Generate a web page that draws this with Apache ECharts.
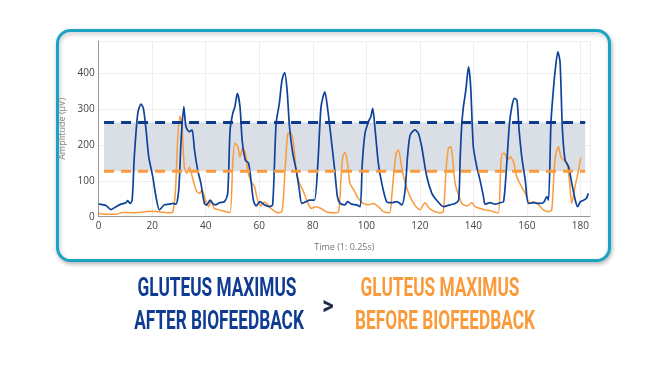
<!DOCTYPE html>
<html>
<head>
<meta charset="utf-8">
<script src="https://cdn.jsdelivr.net/npm/echarts@6/dist/echarts.min.js"></script>
<style>
html,body{margin:0;padding:0;background:#fff;}
#c{width:672px;height:365px;}
</style>
</head>
<body>
<div id="c"></div>
<script>
// Gluteus maximus AFTER biofeedback (blue)
const afterX = [0,2.7,4.6,6.5,8.3,10.2,10.8,11.7,12.5,13.3,14.6,15.8,16.7,17.7,18.7,20.2,21.4,22.7,24.5,26.4,27.7,28.9,29.9,30.8,31.8,32.6,33.9,34.9,35.8,37,38.2,39.5,40.4,41.6,42.6,43.6,45.1,47,48.2,49.1,50.1,50.9,51.8,52.8,53.6,54.8,56,56.9,57.8,58.8,60.3,61.9,63.8,65,66.3,67.5,68.5,69.5,70.4,71.3,72.5,73.8,75,75.9,77.5,78.8,80.6,81.9,83.1,84.5,85.6,86.5,88.2,89.2,90.2,92,93,94.5,96.4,97.7,98.5,99.5,100.8,101.7,102.4,103.3,104.5,105.8,107.6,109.5,111.4,113.3,114.5,115.4,116.4,118.2,119.5,120.7,122.6,124.5,126.3,128.8,131.3,133.2,134.5,135.1,135.7,136.3,137.2,138.2,139,140,141.3,142.5,143.8,144.4,146.3,148.2,150,151.3,152.5,153.5,154.4,155.3,156.3,157.1,158.1,159.4,160.6,162.5,164.4,166.2,167.5,168.1,169,169.7,170.6,171.6,172.4,173.3,174.3,175.6,176.8,178.1,179,180,181.2,182.2,183];
const afterY = [35,31,20,28,35,39,45,37,46,167,288,314,302,242,167,112,56,19,33,35,37,35,74,214,307,251,237,242,186,130,93,37,33,46,37,33,39,42,65,242,288,307,344,307,214,158,149,102,46,30,42,33,28,33,260,316,381,402,353,251,177,130,74,37,42,46,46,149,307,348,298,242,130,56,37,33,42,35,33,28,149,232,265,279,302,242,149,93,42,39,42,33,74,167,228,242,232,195,112,65,46,28,33,37,46,167,260,307,353,418,363,195,139,102,56,35,39,35,39,42,149,260,307,330,325,242,167,102,37,39,37,39,56,46,260,335,409,460,432,242,158,139,93,46,28,42,46,51,65];
// Gluteus maximus BEFORE biofeedback (orange)
const beforeX = [0,2.7,6.5,9,12.7,16.4,18.9,22.7,26.4,27.7,28.7,29.5,30.4,31.2,32,32.9,33.9,35.1,36.4,37.6,38.6,39.9,41.1,42,43.2,45.1,47.6,49.1,50.1,50.9,52,52.8,53.8,54.8,55.7,56.9,58.2,59.4,60.7,61.9,63.2,65,66.9,68.5,69.8,70.7,71.9,72.8,73.8,75,76.3,77.5,79.4,81.2,83.1,85,87.5,89.6,90.5,91.2,92.1,93,93.9,95.4,97,98.9,100.8,102.7,104.5,106.4,108.7,109.5,110.4,111.2,112,113,113.9,115.4,117,118.6,120.1,121.9,123.6,125.7,127.6,128.8,129.8,130.7,131.6,132.3,133.2,134.5,135.7,137.6,139.4,140.7,142.5,144.4,146.3,148.2,149.4,150.3,151,151.9,152.8,153.8,155,156.2,157.7,159.4,161.2,162.5,164.4,166.2,168.1,169.3,170.2,170.9,171.8,172.7,173.7,174.9,175.9,176.8,178,179.3,180.2];
const beforeY = [9,7,6.5,12,11,13,15,14,11,14,74,214,281,242,139,121,138,107,74,65,74,46,28,46,23,19,14,11,149,205,195,167,191,177,130,98,84,46,30,42,33,19,11,14,149,232,234,205,130,93,74,51,23,28,23,14,11,14,102,167,179,149,93,74,51,37,33,37,28,14,11,56,130,177,186,149,112,74,46,28,20,39,23,14,11,14,130,191,195,158,93,60,37,30,39,28,23,19,17,12,11,149,177,175,158,167,153,112,88,65,37,42,33,19,14,19,130,177,195,167,158,149,102,37,84,130,165];
// Threshold lines (µV) and their time span
const afterThreshold = 263;
const beforeThreshold = 127;
const thresholdSpan = [2, 181.8];
const xTicks = [0,20,40,60,80,100,120,140,160,180];
const yTicks = [0,100,200,300,400];

const blue = '#0e429b';
const orange = '#f99a3c';
const pair = (xs, ys) => xs.map((x, i) => [x, ys[i]]);

const chart = echarts.init(document.getElementById('c'), null, {renderer:'canvas'});
const textFont = 'Roboto';
chart.setOption({
  animation: false,
  backgroundColor: '#ffffff',
  grid: {left: 98.7, right: 82, top: 41, bottom: 148.3, containLabel: false},
  xAxis: {
    type: 'value', min: 0, max: 183.6, interval: 20,
    name: 'Time (1: 0.25s)', nameLocation: 'middle', nameGap: 26,
    nameTextStyle: {color: '#777', fontSize: 9, fontFamily: 'Open Sans'},
    axisLine: {show: true, lineStyle: {color: '#999', width: 1}},
    axisTick: {show: false},
    axisLabel: {color: '#444', fontSize: 10, fontFamily: 'Open Sans', margin: 4,
      formatter: v => xTicks.includes(v) ? String(v) : ''},
    splitLine: {show: true, lineStyle: {color: '#eeeeee', width: 1}}
  },
  yAxis: {
    type: 'value', min: 0, max: 490, interval: 100,
    name: 'Amplitude (µV)', nameLocation: 'middle', nameGap: 24, nameRotate: 90,
    nameTextStyle: {color: '#888', fontSize: 9, fontFamily: 'Open Sans'},
    axisLine: {show: true, lineStyle: {color: '#999', width: 1}},
    axisTick: {show: false},
    axisLabel: {color: '#444', fontSize: 10, fontFamily: 'Open Sans', margin: 4,
      formatter: v => yTicks.includes(v) ? String(v) : ''},
    splitLine: {show: true, lineStyle: {color: '#eeeeee', width: 1}}
  },
  series: [
    {
      type: 'line', name: 'band', data: [], silent: true,
      markArea: {silent: true, itemStyle: {color: '#d9dfe5', opacity: 1},
        data: [[{xAxis: thresholdSpan[0], yAxis: beforeThreshold}, {xAxis: thresholdSpan[1], yAxis: afterThreshold}]]},
      z: 1
    },
    {
      type: 'line', name: 'before', data: pair(beforeX, beforeY), smooth: 0.25,
      showSymbol: false, lineStyle: {color: orange, width: 1.5}, z: 3
    },
    {
      type: 'line', name: 'after', data: pair(afterX, afterY), smooth: 0.25,
      showSymbol: false, lineStyle: {color: blue, width: 1.7}, z: 4
    },
    {
      type: 'line', name: 'afterThr', data: thresholdSpan.map(x => [x, afterThreshold]),
      showSymbol: false, lineStyle: {color: '#0c3a8e', width: 3, type: [10, 7]}, z: 5
    },
    {
      type: 'line', name: 'beforeThr', data: thresholdSpan.map(x => [x, beforeThreshold]),
      showSymbol: false, lineStyle: {color: orange, width: 3, type: [10, 7]}, z: 5
    }
  ],
  graphic: [
    {type: 'rect', z: -10, shape: {x: 57.5, y: 30.5, width: 552, height: 230, r: 13},
      style: {fill: '#fff', stroke: '#1aa3c3', lineWidth: 3,
        shadowColor: 'rgba(0,0,0,0.25)', shadowBlur: 4, shadowOffsetX: 1, shadowOffsetY: 2}},
    {type: 'text', x: 217, y: 289, scaleX: 0.69, scaleY: 1.04, z: 10,
      style: {text: 'GLUTEUS MAXIMUS', fill: '#0f3c92', font: 'bold 25px ' + textFont, textAlign: 'center', textVerticalAlign: 'middle'}},
    {type: 'text', x: 219, y: 322.5, scaleX: 0.69, scaleY: 1.04, z: 10,
      style: {text: 'AFTER BIOFEEDBACK', fill: '#0f3c92', font: 'bold 25px ' + textFont, textAlign: 'center', textVerticalAlign: 'middle'}},
    {type: 'text', x: 328, y: 307, scaleX: 0.85, z: 10,
      style: {text: '>', fill: '#1c2b4a', font: 'bold 26px ' + textFont, textAlign: 'center', textVerticalAlign: 'middle'}},
    {type: 'text', x: 440, y: 289, scaleX: 0.69, scaleY: 1.04, z: 10,
      style: {text: 'GLUTEUS MAXIMUS', fill: '#f99b3b', font: 'bold 25px ' + textFont, textAlign: 'center', textVerticalAlign: 'middle'}},
    {type: 'text', x: 445, y: 322.5, scaleX: 0.69, scaleY: 1.04, z: 10,
      style: {text: 'BEFORE BIOFEEDBACK', fill: '#f99b3b', font: 'bold 25px ' + textFont, textAlign: 'center', textVerticalAlign: 'middle'}}
  ]
});
</script>
</body>
</html>
